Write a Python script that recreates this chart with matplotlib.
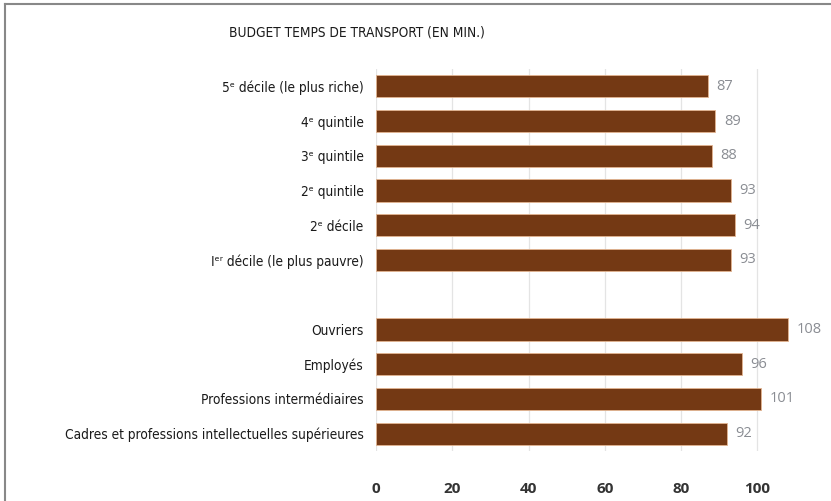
import numpy as np
import matplotlib.pyplot as plt
from matplotlib.lines import Line2D

# budget temps de transport, en minutes
labels = [
    "5ᵉ décile (le plus riche)",
    "4ᵉ quintile",
    "3ᵉ quintile",
    "2ᵉ quintile",
    "2ᵉ décile",
    "Iᵉʳ décile (le plus pauvre)",
    "",
    "Ouvriers",
    "Employés",
    "Professions intermédiaires",
    "Cadres et professions intellectuelles supérieures",
]
values = [87, 89, 88, 93, 94, 93, None, 108, 96, 101, 92]
xticks = [0, 20, 40, 60, 80, 100]

label_font = dict(family='DejaVu Sans', stretch='condensed')
bar_color = '#743914'

fig = plt.figure(figsize=(8.31, 5.01), dpi=100)
ax = fig.add_axes([0.4525, 0.0998, 0.514, 0.7625])

ypos = np.arange(len(labels))
for y, v in zip(ypos, values):
    if v is None:
        continue
    ax.barh(y, v, height=0.64, color=bar_color, edgecolor='#e3b591',
            linewidth=0.6, zorder=3)
    ax.text(v + 2.2, y, str(v), va='center', ha='left', fontsize=10.5,
            color='#8a8d93', family='Open Sans', zorder=4)

ax.set_xlim(0, 112)
ax.set_ylim(len(labels) - 0.5, -0.5)
ax.set_xticks(xticks)
ax.set_xticklabels([str(t) for t in xticks], fontsize=11, fontweight='bold',
                   color='#333333', family='Open Sans')
ax.set_yticks(ypos)
ax.set_yticklabels(labels, fontsize=9.8, color='#1a1a1a', **label_font)
ax.tick_params(axis='x', length=0, pad=22)
ax.tick_params(axis='y', length=0, pad=9)
ax.grid(axis='x', color='#e4e4e4', linewidth=0.9, zorder=0)
for s in ax.spines.values():
    s.set_visible(False)

fig.text(229 / 831, 1 - 33 / 501, "BUDGET TEMPS DE TRANSPORT (EN MIN.)",
         fontsize=9.8, color='#1a1a1a', ha='left', va='center', **label_font)

# cadre gris en haut et à gauche
fig.add_artist(Line2D([4.5 / 831, 4.5 / 831], [0, 1 - 4 / 501],
                      color='#888888', linewidth=1.5))
fig.add_artist(Line2D([4.5 / 831, 1], [1 - 4 / 501, 1 - 4 / 501],
                      color='#888888', linewidth=1.5))

fig.savefig('out.png', dpi=100, facecolor='white')
